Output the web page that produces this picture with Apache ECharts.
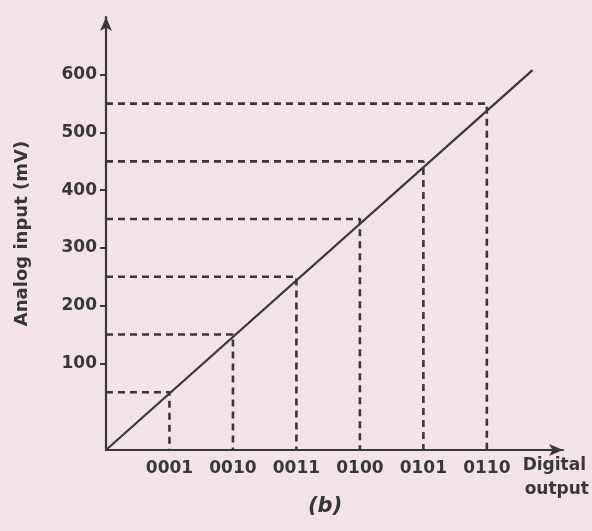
<!DOCTYPE html>
<html>
<head>
<meta charset="utf-8">
<script src="https://cdn.jsdelivr.net/npm/echarts@6/dist/echarts.min.js"></script>
<style>
  html, body { margin: 0; padding: 0; background: #f2e3e6; }
  #chart { width: 592px; height: 531px; }
</style>
</head>
<body>
<div id="chart"></div>
<script>
// ADC transfer characteristic: digital code vs. analog input level
const codes = [1, 2, 3, 4, 5, 6];
const codeLabels = ['0001', '0010', '0011', '0100', '0101', '0110'];
const levels = [50, 150, 250, 350, 450, 550];          // mV at each code step
const yTicks = [100, 200, 300, 400, 500, 600];          // labelled mV ticks
const lineCodes = [0, 6.72];                            // transfer line ends
const lineValues = [-50, 608];

const ink = '#383838';
const font = 'DejaVu Sans';

// dashed guides: horizontal from the axis to the step, then down to the code axis
const guideSeries = codes.map((c, i) => ({
  type: 'line',
  data: [[0, levels[i]], [c, levels[i]], [c, -50]],
  symbol: 'none',
  silent: true,
  lineStyle: { color: ink, width: 2.6, type: [7, 5] },
  z: 2
}));

const chart = echarts.init(document.getElementById('chart'));
chart.setOption({
  backgroundColor: '#f2e3e6',
  animation: false,
  grid: { left: 106, right: 29, top: 17, bottom: 81 },
  xAxis: {
    type: 'value',
    min: 0,
    max: 7.2,
    axisLine: {
      onZero: false,
      lineStyle: { color: ink, width: 2.2 },
      symbol: ['none', 'arrow'],
      symbolSize: [9, 14]
    },
    axisTick: { show: false },
    splitLine: { show: false },
    axisLabel: {
      customValues: codes,
      formatter: v => codeLabels[codes.indexOf(v)] || '',
      color: ink,
      fontFamily: font,
      fontWeight: 'bold',
      fontSize: 17,
      margin: 10
    }
  },
  yAxis: {
    type: 'value',
    min: -50,
    max: 700,
    name: 'Analog input (mV)',
    nameLocation: 'middle',
    nameGap: 75,
    nameRotate: 90,
    nameTextStyle: { color: ink, fontFamily: font, fontWeight: 'bold', fontSize: 18 },
    axisLine: {
      onZero: false,
      lineStyle: { color: ink, width: 2.2 },
      symbol: ['none', 'arrow'],
      symbolSize: [9, 14]
    },
    axisTick: { customValues: yTicks, length: 6, lineStyle: { color: ink, width: 2 } },
    splitLine: { show: false },
    axisLabel: {
      customValues: yTicks,
      color: ink,
      fontFamily: font,
      fontWeight: 'bold',
      fontSize: 17,
      margin: 9
    }
  },
  series: [
    ...guideSeries,
    {
      type: 'line',
      data: lineCodes.map((c, i) => [c, lineValues[i]]),
      symbol: 'none',
      silent: true,
      lineStyle: { color: ink, width: 2.2 },
      z: 3
    }
  ],
  graphic: [
    { type: 'text', right: 6, top: 457,
      style: { text: 'Digital', fill: ink, font: 'bold 17px "DejaVu Sans"', align: 'right' } },
    { type: 'text', right: 3, top: 481,
      style: { text: 'output', fill: ink, font: 'bold 17px "DejaVu Sans"', align: 'right' } },
    { type: 'text', left: 308, top: 496,
      style: { text: '(b)', fill: ink, font: 'italic bold 21px "DejaVu Sans"' } }
  ]
});
</script>
</body>
</html>
